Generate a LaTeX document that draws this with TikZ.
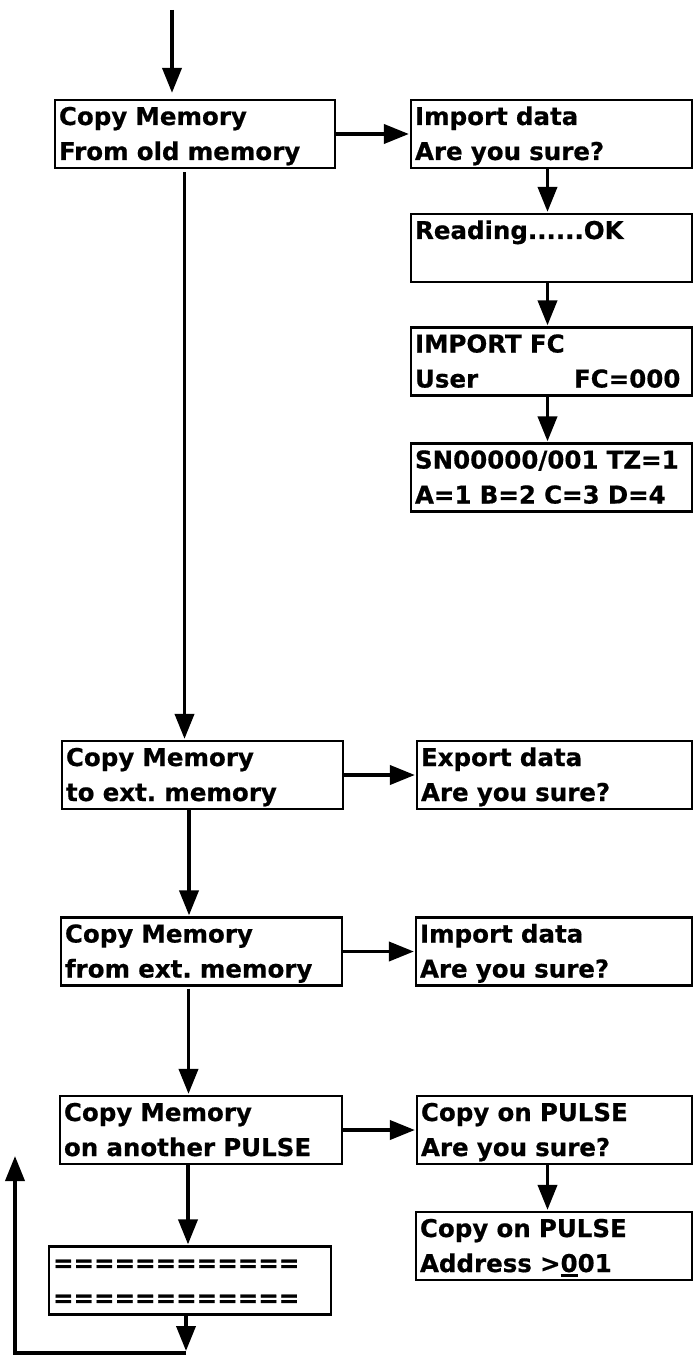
\documentclass[tikz,border=0pt]{standalone}
\usepackage{fontspec}
\setmainfont{DejaVu Sans}[BoldFeatures={FakeBold=0.6}]
\usetikzlibrary{arrows.meta}
\frenchspacing
\newcommand{\twolines}[2]{\rule{0pt}{25bp}#1\\\rule[-8bp]{0pt}{8bp}#2}
\newcommand{\uzero}{\rlap{\rule[-5bp]{17bp}{2.6bp}}0}
\begin{document}
\begin{tikzpicture}[x=1bp,y=-1bp,
  box/.style={draw, line width=2.2bp, minimum height=68bp, inner xsep=4bp, inner ysep=0pt,
    align=left, font=\fontsize{24.5bp}{35bp}\selectfont\bfseries\frenchspacing},
  arr/.style={line width=3.8bp, -{Triangle[length=25bp,width=19bp]}, shorten >=1bp},
  ]
\useasboundingbox (0,0) rectangle (693,1355);

% left column
\node[box, text width=272bp] (A) at (195,134) {\twolines{Copy Memory}{From old memory}};
\node[box, text width=273bp] (F) at (202.5,775) {\twolines{Copy Memory}{to ext. memory}};
\node[box, text width=273bp] (H) at (201.5,951.5) {\twolines{Copy Memory}{from ext. memory}};
\node[box, text width=274bp] (J) at (201,1130) {\twolines{Copy Memory}{on another PULSE}};
\node[box, text width=274bp] (M) at (190,1280.5) {\twolines{============}{============}};

% right column
\node[box, text width=273bp] (B) at (551.5,134) {\twolines{Import data}{Are you sure?}};
\node[box, text width=273bp] (C) at (551.5,248) {\twolines{Reading......OK}{}};
\node[box, text width=273bp] (D) at (551.5,361.5) {\twolines{IMPORT FC}{\makebox[159bp][l]{User}FC=000}};
\node[box, text width=273bp] (E) at (551.5,477.5) {\twolines{SN00000/001 TZ=1}{A=1 B=2 C=3 D=4}};
\node[box, text width=267bp] (G) at (554.5,775) {\twolines{Export data}{Are you sure?}};
\node[box, text width=268bp] (I) at (554,951.5) {\twolines{Import data}{Are you sure?}};
\node[box, text width=267bp] (K) at (554.5,1130) {\twolines{Copy on PULSE}{Are you sure?}};
\node[box, text width=268bp] (L) at (554,1246) {\twolines{Copy on PULSE}{Address >\uzero01}};

% helper coordinates
\coordinate (start) at (172,10);
\coordinate (xa) at (184.5,0);
\coordinate (xf) at (189,0);
\coordinate (xh) at (188.5,0);
\coordinate (xj) at (188,0);
\coordinate (xm) at (186,0);
\coordinate (xr) at (547.5,0);
\coordinate (bot) at (186,1353);
\coordinate (loop) at (15,1155);

% connectors
\draw[arr, shorten >=6bp] (start) -- (start |- A.north);
\draw[arr] (A.east) -- (B.west);
\draw[arr] (B.south -| xr) -- (C.north -| xr);
\draw[arr] (C.south -| xr) -- (D.north -| xr);
\draw[arr] (D.south -| xr) -- (E.north -| xr);
\draw[arr, shorten <=3bp] (A.south -| xa) -- (F.north -| xa);
\draw[arr] (F.east) -- (G.west);
\draw[arr] (F.south -| xf) -- (H.north -| xf);
\draw[arr] (H.east) -- (I.west);
\draw[arr, shorten <=2bp] (H.south -| xh) -- (J.north -| xh);
\draw[arr] (J.east) -- (K.west);
\draw[arr] (K.south -| xr) -- (L.north -| xr);
\draw[arr] (J.south -| xj) -- (M.north -| xj);
\draw[arr, shorten >=2bp] (M.south -| xm) -- (bot);
\draw[arr, line join=miter] (bot) -| (loop);
\end{tikzpicture}
\end{document}
